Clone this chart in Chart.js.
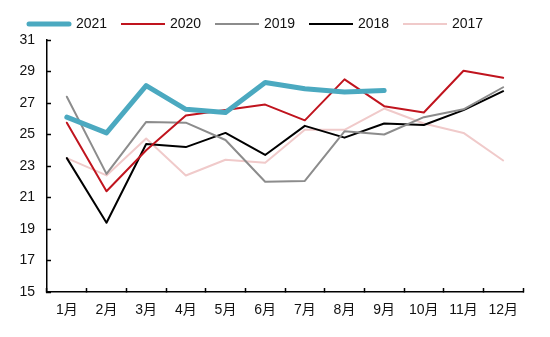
<!DOCTYPE html>
<html>
<head>
<meta charset="utf-8">
<script src="https://cdn.jsdelivr.net/npm/chart.js@4/dist/chart.umd.min.js"></script>
<style>
  html, body { margin: 0; padding: 0; background: #fff; }
  #wrap { width: 550px; height: 337px; }
</style>
</head>
<body>
<div id="wrap"><canvas id="chart"></canvas></div>
<script>
// 月份
const months = ['1月', '2月', '3月', '4月', '5月', '6月', '7月', '8月', '9月', '10月', '11月', '12月'];

// 各年数据
const data2021 = [26.1, 25.1, 28.1, 26.6, 26.4, 28.3, 27.9, 27.7, 27.8];
const data2020 = [25.75, 21.4, 24.0, 26.2, 26.55, 26.9, 25.9, 28.5, 26.8, 26.4, 29.05, 28.6];
const data2019 = [27.4, 22.5, 25.8, 25.75, 24.65, 22.0, 22.05, 25.2, 25.0, 26.1, 26.6, 28.0];
const data2018 = [23.5, 19.4, 24.4, 24.2, 25.1, 23.7, 25.55, 24.8, 25.7, 25.6, 26.55, 27.75];
const data2017 = [23.5, 22.4, 24.75, 22.4, 23.4, 23.2, 25.3, 25.3, 26.65, 25.7, 25.1, 23.35];

// 纵轴刻度
const yMin = 15;
const yMax = 31;
const yStep = 2;

const fontFamily = '"Liberation Sans", "Noto Sans CJK SC", sans-serif';

function series(label, values, color, width) {
    return {
        label: label,
        data: values,
        borderColor: color,
        backgroundColor: color,
        borderWidth: width,
        pointRadius: 0,
        pointHoverRadius: 0,
        tension: 0,
        borderCapStyle: 'round',
        borderJoinStyle: 'round',
        fill: false
    };
}

// 自定义图例（线段 + 文字）
const lineLegend = {
    id: 'lineLegend',
    afterDraw(chart) {
        const ctx = chart.ctx;
        let x = 27;
        const y = 24;
        ctx.save();
        ctx.font = '14px ' + fontFamily;
        ctx.textBaseline = 'middle';
        chart.data.datasets.forEach(ds => {
            const thick = ds.borderWidth > 3;
            ctx.beginPath();
            ctx.strokeStyle = ds.borderColor;
            ctx.lineWidth = ds.borderWidth;
            ctx.lineCap = thick ? 'round' : 'butt';
            ctx.moveTo(x + (thick ? 2 : 0), y);
            ctx.lineTo(x + 44 - (thick ? 2 : 0), y);
            ctx.stroke();
            ctx.fillStyle = '#111';
            ctx.fillText(ds.label, x + 49, y);
            x += 94;
        });
        ctx.restore();
    }
};

const ctx = document.getElementById('chart').getContext('2d');
new Chart(ctx, {
    type: 'line',
    data: {
        labels: months,
        datasets: [
            series('2021', data2021, '#4BA9C0', 5),
            series('2020', data2020, '#C0141E', 2),
            series('2019', data2019, '#8C8C8C', 2),
            series('2018', data2018, '#000000', 2),
            series('2017', data2017, '#F0CACA', 2)
        ]
    },
    options: {
        responsive: true,
        maintainAspectRatio: false,
        animation: false,
        layout: { padding: { top: 40, right: 27, left: 0, bottom: 0 } },
        plugins: {
            legend: { display: false },
            tooltip: { enabled: false }
        },
        scales: {
            x: {
                offset: true,
                grid: {
                    offset: true,
                    drawOnChartArea: false,
                    tickLength: -4,
                    tickColor: '#000',
                    tickWidth: 1.5
                },
                border: { color: '#000', width: 1.5 },
                ticks: {
                    color: '#111',
                    font: { family: fontFamily, size: 14 },
                    padding: 14,
                    maxRotation: 0,
                    autoSkip: false
                },
                afterFit(scale) { scale.height = 45; }
            },
            y: {
                min: yMin,
                max: yMax,
                grid: {
                    drawOnChartArea: false,
                    tickLength: -4,
                    tickColor: '#000',
                    tickWidth: 1.5
                },
                border: { color: '#000', width: 1.5 },
                ticks: {
                    stepSize: yStep,
                    color: '#111',
                    font: { family: fontFamily, size: 14 },
                    padding: 16
                },
                afterFit(scale) { scale.width = 47; }
            }
        }
    },
    plugins: [lineLegend]
});
</script>
</body>
</html>
